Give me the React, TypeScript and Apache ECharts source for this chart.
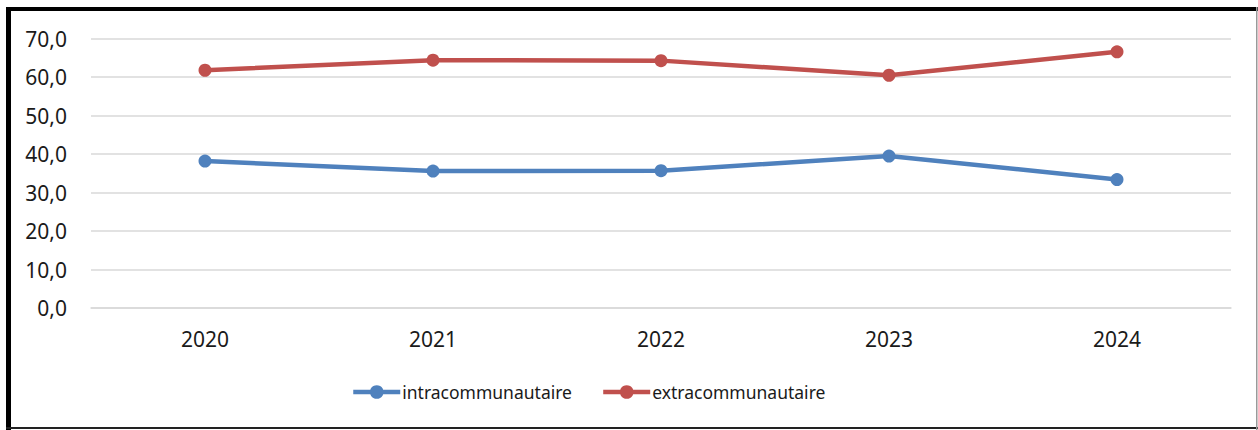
import React, { useEffect, useRef } from "react";
import * as echarts from "echarts";

const categories = ["2020", "2021", "2022", "2023", "2024"];
const intraValues = [38.2, 35.6, 35.7, 39.5, 33.4];
const extraValues = [61.8, 64.4, 64.3, 60.5, 66.6];
const seriesNames = ["intracommunautaire", "extracommunautaire"];
const seriesColors = ["#4f81bd", "#c0504d"];

export default function App() {
  const ref = useRef<HTMLDivElement>(null);
  useEffect(() => {
    if (!ref.current) return;
    const chart = echarts.init(ref.current, null, { renderer: "svg" });
    const font = "'Noto Sans', 'Open Sans', sans-serif";
    chart.setOption({
      animation: false,
      backgroundColor: "#ffffff",
      grid: { left: 91, right: 27, top: 38.7, bottom: 122, containLabel: false },
      xAxis: {
        type: "category",
        data: categories,
        boundaryGap: true,
        axisLine: { show: true, lineStyle: { color: "#d9d9d9", width: 1.5 } },
        axisTick: { show: false },
        axisLabel: { color: "#1a1a1a", fontFamily: font, fontSize: 21, lineHeight: 21, margin: 20 },
      },
      yAxis: {
        type: "value",
        min: 0,
        max: 70,
        interval: 10,
        axisLine: { show: false },
        axisTick: { show: false },
        splitLine: { lineStyle: { color: "#d9d9d9", width: 1.5 } },
        axisLabel: {
          color: "#1a1a1a",
          fontFamily: font,
          fontSize: 21,
          margin: 24,
          formatter: (v: number) => v.toFixed(1).replace(".", ","),
        },
      },
      legend: {
        top: 383,
        left: 351,
        padding: 0,
        itemWidth: 47,
        itemHeight: 17,
        itemGap: 29,
        lineStyle: { width: 4.5 },
        textStyle: { color: "#1a1a1a", fontFamily: font, fontSize: 17.5, padding: [0, 0, 0, -3] },
        data: seriesNames,
      },
      series: [
        {
          name: seriesNames[0],
          type: "line",
          data: intraValues,
          color: seriesColors[0],
          symbol: "circle",
          symbolSize: 13,
          lineStyle: { width: 4.5, color: seriesColors[0] },
          itemStyle: { color: seriesColors[0] },
        },
        {
          name: seriesNames[1],
          type: "line",
          data: extraValues,
          color: seriesColors[1],
          symbol: "circle",
          symbolSize: 13,
          lineStyle: { width: 4.5, color: seriesColors[1] },
          itemStyle: { color: seriesColors[1] },
        },
      ],
      graphic: [
        { type: "rect", shape: { x: 6, y: 7, width: 1252, height: 4 }, style: { fill: "#000" }, silent: true },
        { type: "rect", shape: { x: 6, y: 7, width: 5, height: 423 }, style: { fill: "#000" }, silent: true },
        { type: "rect", shape: { x: 6, y: 427, width: 1252, height: 2 }, style: { fill: "#222" }, silent: true },
        { type: "rect", shape: { x: 1256, y: 7, width: 1.5, height: 423 }, style: { fill: "#9a9a9a" }, silent: true },
      ],
    });
    return () => chart.dispose();
  }, []);
  return (
    <div
      ref={ref}
      style={{ position: "fixed", left: 0, top: 0, width: 1258, height: 430 }}
    />
  );
}
